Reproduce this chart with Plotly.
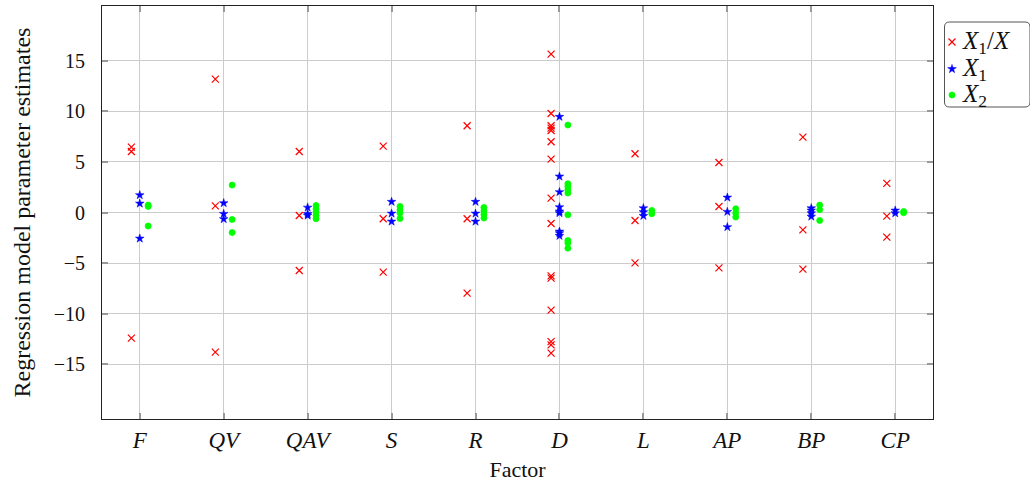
import plotly.graph_objects as go

# Factors on the x axis
factors = ["F", "QV", "QAV", "S", "R", "D", "L", "AP", "BP", "CP"]

# Parameter estimates per factor, one list per factor
est_x1_over_x = [
    [6.46, 6.03, -12.41],
    [13.18, 0.66, -13.8],
    [6.03, -0.30, -5.73],
    [6.56, -0.62, -5.89],
    [8.57, -0.62, -7.97],
    [15.65, 9.78, 8.57, 8.34, 8.1, 6.99, 5.28, 1.42, -1.09, -6.26, -6.48,
     -9.64, -12.75, -13.07, -13.9],
    [5.8, -0.79, -4.98],
    [4.94, 0.59, -5.47],
    [7.45, -1.71, -5.59],
    [2.87, -0.36, -2.43],
]
est_x1 = [
    [1.72, 0.89, -2.57],
    [0.93, -0.13, -0.65],
    [0.49, -0.15, -0.3],
    [1.06, -0.1, -0.89],
    [1.06, -0.1, -0.89],
    [9.46, 3.56, 2.02, 0.53, 0.1, -0.06, -1.88, -2.04, -2.3],
    [0.43, 0.04, -0.33],
    [1.48, 0.07, -1.44],
    [0.43, 0.2, -0.07, -0.4],
    [0.2, -0.07],
]
est_x2 = [
    [0.73, 0.6, -1.34],
    [2.71, -0.69, -1.98],
    [0.69, 0.35, 0.04, -0.3, -0.62],
    [0.6, 0.25, -0.05, -0.6],
    [0.5, 0.15, -0.2, -0.55],
    [8.64, 2.84, 2.57, 2.24, 1.92, -0.23, -2.77, -3.02, -3.52],
    [0.2, -0.13],
    [0.37, -0.06, -0.45],
    [0.73, 0.27, -0.79],
    [0.1, -0.03],
]

series_names = ["<i>X</i><sub>1</sub>/<i>X</i>",
                "<i>X</i><sub>1</sub>",
                "<i>X</i><sub>2</sub>"]

SERIF = "Liberation Serif"
TXT = "#111111"


def flatten(groups, shift):
    xs, ys = [], []
    for i, vals in enumerate(groups):
        for v in vals:
            xs.append(i + shift)
            ys.append(v)
    return xs, ys


markers = [
    dict(symbol="x-thin-open", size=7, color="#ff0000",
         line=dict(color="#ff0000", width=1.2)),
    dict(symbol="star", size=6.5, color="#0000ff",
         line=dict(color="#0000ff", width=0.5)),
    dict(symbol="circle", size=6, color="#00ff00",
         line=dict(color="#00ff00", width=0.8)),
]
shifts = [-0.1, 0.0, 0.1]
groups_all = [est_x1_over_x, est_x1, est_x2]

fig = go.Figure()
for groups, shift, name, marker in zip(groups_all, shifts, series_names, markers):
    xs, ys = flatten(groups, shift)
    fig.add_trace(go.Scatter(x=xs, y=ys, mode="markers", name=name,
                             marker=marker, showlegend=False))

# Legend drawn on a hidden pixel-scaled overlay axis (x2/y2)
LEG_X0, LEG_X1 = 938, 1030
PLOT_TOP, PLOT_BOT = 6, 419
key_rows = [42, 69, 95]
key_x = 952
for row, name, marker in zip(key_rows, series_names, markers):
    fig.add_trace(go.Scatter(x=[key_x], y=[row], mode="markers",
                             marker=marker, xaxis="x2", yaxis="y2",
                             showlegend=False, hoverinfo="skip"))
    fig.add_annotation(x=key_x + 8, y=row, xref="x2", yref="y2",
                       text=name, showarrow=False, xanchor="left",
                       yanchor="middle",
                       font=dict(family=SERIF, size=25, color=TXT))

bx0, bx1, by0, by1, r = 944.5, 1030, 22, 107, 5
path = (f"M {bx0+r},{by0} L {bx1-r},{by0} Q {bx1},{by0} {bx1},{by0+r} "
        f"L {bx1},{by1-r} Q {bx1},{by1} {bx1-r},{by1} L {bx0+r},{by1} "
        f"Q {bx0},{by1} {bx0},{by1-r} L {bx0},{by0+r} Q {bx0},{by0} {bx0+r},{by0} Z")
fig.add_shape(type="path", path=path, xref="x2", yref="y2",
              line=dict(color="#555555", width=1))

axis_common = dict(
    showline=True, linecolor="#222222", linewidth=1, mirror="ticks",
    showgrid=True, gridcolor="#cccccc", gridwidth=1,
    ticks="inside", ticklen=6, tickcolor="#999999", tickwidth=1.5,
    zeroline=False,
)

M_L, M_R = 102, 2
area_w = 1032 - M_L - M_R
main_right = 933

fig.update_layout(
    width=1032, height=483,
    margin=dict(l=M_L, r=M_R, t=PLOT_TOP, b=483 - PLOT_BOT),
    plot_bgcolor="white", paper_bgcolor="white",
    showlegend=False,
    xaxis=dict(
        domain=[0, (main_right - M_L) / area_w],
        range=[-0.45, 9.45], tickvals=list(range(len(factors))),
        ticktext=[f"<i>{f}</i>" for f in factors],
        tickfont=dict(family=SERIF, size=23, color=TXT),
        title=dict(text="Factor", font=dict(family=SERIF, size=22, color=TXT),
                   standoff=10),
        **axis_common,
    ),
    yaxis=dict(
        range=[-20.4, 20.4], tickvals=[-15, -10, -5, 0, 5, 10, 15],
        ticktext=["\u221215", "\u221210", "\u22125", "0", "5", "10", "15"],
        tickfont=dict(family=SERIF, size=20, color=TXT),
        ticklabelstandoff=12,
        title=dict(text="Regression model parameter estimates",
                   font=dict(family=SERIF, size=24, color=TXT), standoff=16),
        **axis_common,
    ),
    xaxis2=dict(domain=[(LEG_X0 - M_L) / area_w, 1], range=[LEG_X0, LEG_X1],
                visible=False, anchor="y2"),
    yaxis2=dict(domain=[0, 1], range=[PLOT_BOT, PLOT_TOP], visible=False,
                anchor="x2"),
)

fig.write_html("out.html")
